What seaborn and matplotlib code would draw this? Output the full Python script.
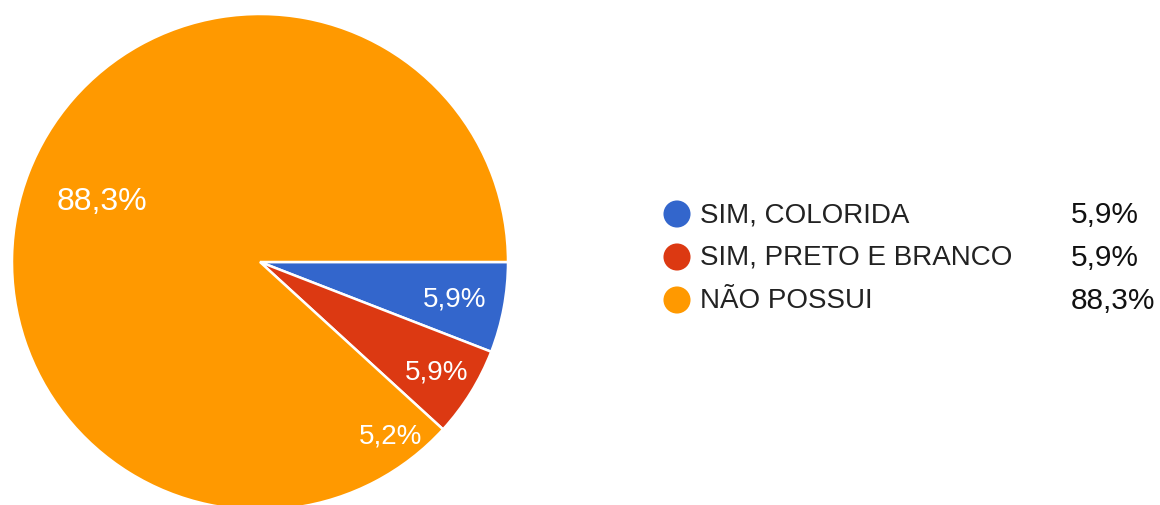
import numpy as np
import matplotlib
matplotlib.use("Agg")
import matplotlib.pyplot as plt
import seaborn as sns

categories = ["SIM, COLORIDA", "SIM, PRETO E BRANCO", "NÃO POSSUI"]
values = [5.9, 5.9, 88.3]
value_labels = ["5,9%", "5,9%", "88,3%"]
extra_label = "5,2%"          # stray label visible in the original picture
extra_label_angle = -53.0      # degrees
extra_label_r = 0.875

sns.set_theme(style="white")
plt.rcParams['font.family'] = ['Liberation Sans', 'DejaVu Sans']

colors = ["#3366CC", "#DC3912", "#FF9900"]

W, H = 1160, 506
fig = plt.figure(figsize=(W / 100, H / 100), dpi=100)
ax = fig.add_axes([0, 0, 1, 1])

cx, cy, R = 260, H - 263, 248
wedges, _ = ax.pie(values, colors=colors, startangle=0, counterclock=False,
                   center=(cx, cy), radius=R, frame=True,
                   wedgeprops=dict(edgecolor="white", linewidth=1.8))
ax.set_xlim(0, W)
ax.set_ylim(0, H)
ax.set_aspect("equal")
ax.axis("off")

label_r = [0.80, 0.84, 0.685]
label_fs = [20, 20, 23]
for w, lab, lr, fs in zip(wedges, value_labels, label_r, label_fs):
    mid = np.deg2rad((w.theta1 + w.theta2) / 2)
    ax.text(cx + lr * R * np.cos(mid), cy + lr * R * np.sin(mid), lab,
            color="white", fontsize=fs, ha="center", va="center")

a = np.deg2rad(extra_label_angle)
ax.text(cx + extra_label_r * R * np.cos(a), cy + extra_label_r * R * np.sin(a),
        extra_label, color="white", fontsize=20, ha="center", va="center")

# legend
ys = [215, 258, 301]
for cat, lab, col, y in zip(categories, value_labels, colors, ys):
    ax.scatter([677], [H - y], s=380, color=col, edgecolors="none", zorder=5)
    ax.text(700, H - y, cat, color="#222222", fontsize=20, ha="left", va="center")
    ax.text(1071, H - y, lab, color="#111111", fontsize=21.5, ha="left", va="center")

fig.savefig("out.png", dpi=100)
